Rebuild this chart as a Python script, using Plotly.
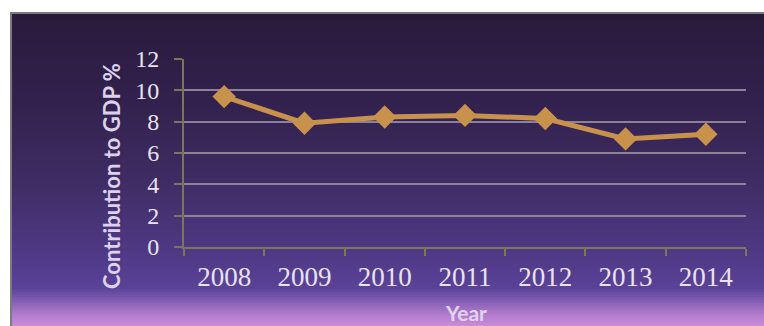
import plotly.graph_objects as go

# Contribution to GDP (%) by year
years = ["2008", "2009", "2010", "2011", "2012", "2013", "2014"]
contribution = [9.6, 7.9, 8.3, 8.4, 8.2, 6.9, 7.2]
y_ticks = [0, 2, 4, 6, 8, 10, 12]

W, H = 764, 326
L, R, T, B = 184, 746, 59, 247  # plot area in pixels


def px_x(px):
    return (px - L) / (R - L)


def px_y(py):
    return (B - py) / (B - T)


def hex_to_rgb(h):
    h = h.lstrip("#")
    return tuple(int(h[i:i + 2], 16) for i in (0, 2, 4))


def lerp_color(stops, py):
    for (y0, c0), (y1, c1) in zip(stops, stops[1:]):
        if y0 <= py <= y1:
            t = (py - y0) / (y1 - y0) if y1 > y0 else 0
            a, b = hex_to_rgb(c0), hex_to_rgb(c1)
            return "rgb(%d,%d,%d)" % tuple(round(a[i] + (b[i] - a[i]) * t) for i in range(3))
    return stops[-1][1]


# vertical gradient of the framed panel
grad = [(13, "#2a1a3b"), (100, "#32214d"), (180, "#3f2c63"), (260, "#513a88"),
        (288, "#5a4298"), (300, "#7f5cb2"), (314, "#b07aca"), (326, "#c88cdc")]

shapes = []
step = 2
panel_left = 12
for py in range(13, H, step):
    shapes.append(dict(
        type="rect", xref="paper", yref="paper", layer="below",
        x0=px_x(panel_left), x1=px_x(W + 2), y0=px_y(py + step + 0.5), y1=px_y(py),
        line=dict(width=0), fillcolor=lerp_color(grad, py + step / 2),
    ))
# frame edges
shapes.append(dict(type="line", xref="paper", yref="paper", layer="below",
                   x0=px_x(11), x1=px_x(W + 2), y0=px_y(13), y1=px_y(13),
                   line=dict(color="#7c7a80", width=2)))
shapes.append(dict(type="line", xref="paper", yref="paper", layer="below",
                   x0=px_x(11), x1=px_x(11), y0=px_y(12), y1=px_y(H + 2),
                   line=dict(color="#7c7a80", width=2)))

fig = go.Figure()
fig.add_trace(go.Scatter(
    x=years, y=contribution, mode="lines+markers",
    line=dict(color="#c8924c", width=5),
    marker=dict(symbol="diamond", size=18, color="#c8924c"),
    hoverinfo="x+y", showlegend=False,
))

axis_color = "#7d7558"
grid_color = "#8a8296"
label_color = "#e8e2f0"

fig.update_layout(
    width=W, height=H,
    margin=dict(l=L, r=W - R, t=T, b=H - B, pad=0),
    paper_bgcolor="white",
    plot_bgcolor="rgba(0,0,0,0)",
    shapes=shapes,
    xaxis=dict(
        type="category", range=[-0.5, 6.5],
        showgrid=False, showline=True, linecolor=axis_color, linewidth=2,
        ticks="outside", tickson="boundaries", ticklen=7, tickcolor=axis_color, tickwidth=2,
        tickfont=dict(family="Liberation Serif", size=27, color=label_color),
        ticklabelstandoff=5, fixedrange=True,
    ),
    yaxis=dict(
        range=[0, 12], tickvals=y_ticks, ticktext=[str(v) for v in y_ticks],
        showgrid=True, gridcolor=grid_color, gridwidth=2,
        showline=True, linecolor=axis_color, linewidth=2,
        ticks="outside", ticklen=8, tickcolor=axis_color, tickwidth=2,
        tickfont=dict(family="Liberation Serif", size=24, color=label_color),
        ticklabelstandoff=10, zeroline=False, fixedrange=True,
    ),
    annotations=[
        dict(text="<b>Contribution to GDP %</b>", textangle=-90,
             xref="paper", yref="paper", x=px_x(111), y=px_y(176),
             xanchor="center", yanchor="middle", showarrow=False,
             font=dict(family="Lato", size=22, color="#ddd2ec")),
        dict(text="<b>Year</b>",
             xref="paper", yref="paper", x=px_x(466), y=px_y(312),
             xanchor="center", yanchor="middle", showarrow=False,
             font=dict(family="Lato", size=21, color="#e2d4ee")),
    ],
)

fig.write_html("out.html", config={"displayModeBar": False})
